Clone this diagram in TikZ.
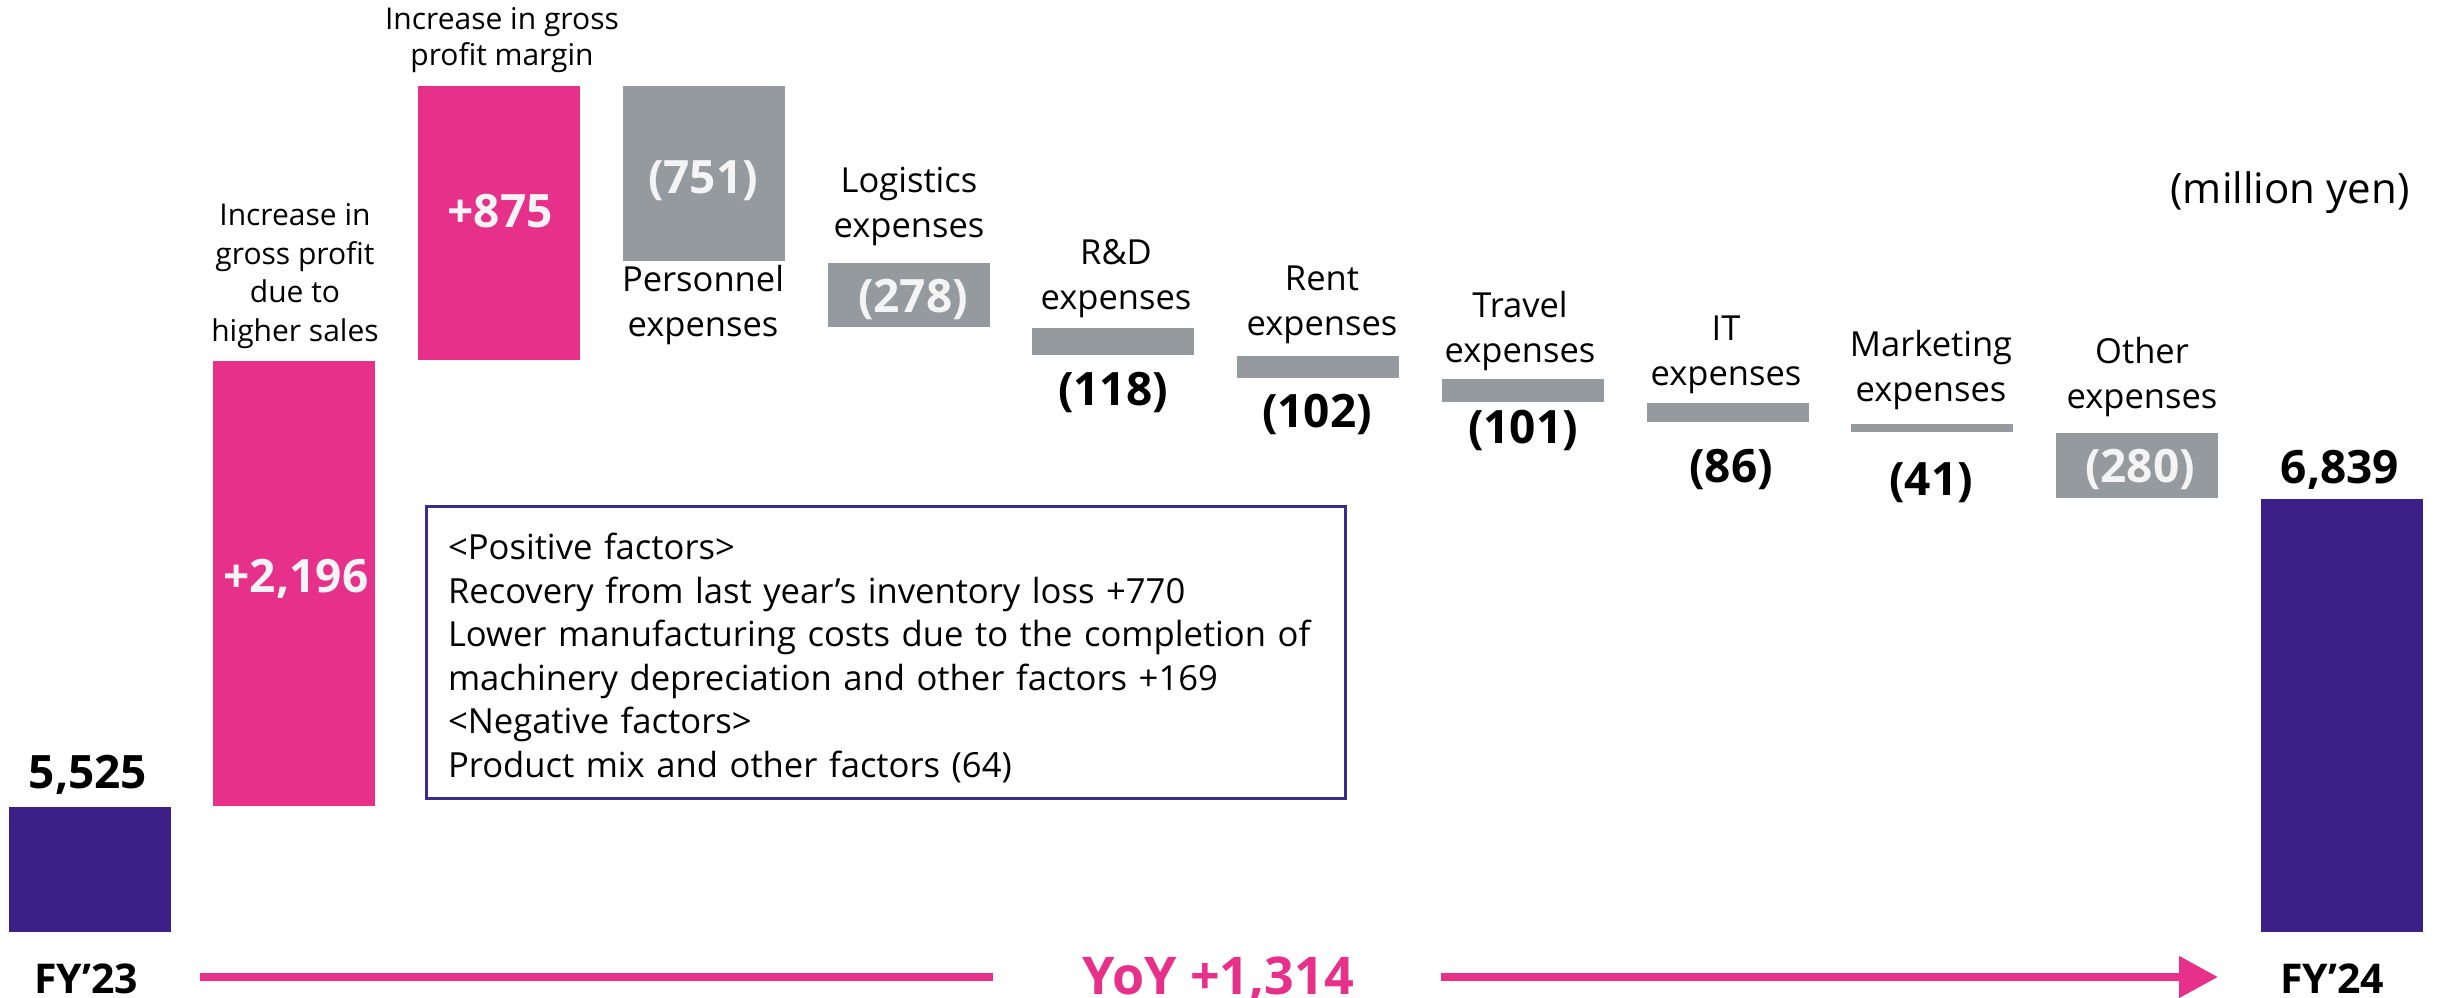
\documentclass[tikz,border=0pt]{standalone}
\usepackage{fontspec}
\setmainfont{Open Sans}
\usetikzlibrary{arrows.meta}
\definecolor{pinkc}{HTML}{E6308A}
\definecolor{purplec}{HTML}{3C1F87}
\definecolor{grayc}{HTML}{959A9F}
\definecolor{boxc}{HTML}{3C2A8C}
\definecolor{whitec}{HTML}{F4F4F4}
\begin{document}
\begin{tikzpicture}[x=1pt,y=-1pt,
 barbox/.style={draw=none,inner sep=0pt,outer sep=0pt,minimum width=162pt},
 pbar/.style={barbox,fill=pinkc},
 ubar/.style={barbox,fill=purplec},
 gbar/.style={barbox,fill=grayc},
 val/.style={inner sep=0pt,anchor=base,font=\fontsize{46}{50}\selectfont\bfseries},
 wval/.style={val,text=whitec},
 lbl/.style={inner sep=0pt,align=center,font=\fontsize{34.5}{45}\selectfont},
 toplbl/.style={inner sep=0pt,align=center,font=\fontsize{30}{38.5}\selectfont},
 yoyline/.style={draw=pinkc,line width=8pt},
]
\useasboundingbox (0,0) rectangle (2438,998);

% bars
\node[ubar,minimum height=125pt] (b23) at (89.5,869.5) {};
\node[pbar,minimum height=445pt] (b1) at (294,583.5) {};
\node[pbar,minimum height=274pt] (b2) at (499,223) {};
\node[gbar,minimum height=175pt] (b3) at (704,173.5) {};
\node[gbar,minimum height=64pt] (b4) at (909,295) {};
\node[gbar,minimum height=27pt] (b5) at (1113,341.5) {};
\node[gbar,minimum height=22pt] (b6) at (1318,367) {};
\node[gbar,minimum height=23pt] (b7) at (1523,390.5) {};
\node[gbar,minimum height=19pt] (b8) at (1728,412.5) {};
\node[gbar,minimum height=8pt] (b9) at (1932,428) {};
\node[gbar,minimum height=65pt] (b10) at (2136.5,465.5) {};
\node[ubar,minimum height=433pt] (b24) at (2341.5,715.5) {};

% values
\node[val] (v23) at (88,788) {5,525};
\node[wval] (v1) at (296,592) {+2,196};
\node[wval] (v2) at (500,227) {+875};
\node[wval] (v3) at (703,193) {(751)};
\node[wval] (v4) at (913,312) {(278)};
\node[val] (v5) at (1113,405) {(118)};
\node[val] (v6) at (1317,427) {(102)};
\node[val] (v7) at (1523,443) {(101)};
\node[val] (v8) at (1731,482) {(86)};
\node[val] (v9) at (1931,495) {(41)};
\node[wval] (v10) at (2140,482) {(280)};
\node[val] (v24) at (2340,483) {6,839};

% labels
\node[toplbl] (l1) at (295,276) {Increase in\\gross profit\\due to\\higher sales};
\node[toplbl,font=\fontsize{30}{36}\selectfont] (l2) at (502,40) {Increase in gross\\profit margin};
\node[lbl] (l3) at (703,305) {Personnel\\expenses};
\node[lbl] (l4) at (909,206) {Logistics\\expenses};
\node[lbl] (l5) at (1116,279) {R\&D\\expenses};
\node[lbl] (l6) at (1322,305) {Rent\\expenses};
\node[lbl] (l7) at (1520,331) {Travel\\expenses};
\node[lbl] (l8) at (1726,355) {IT\\expenses};
\node[lbl] (l9) at (1931,370) {Marketing\\expenses};
\node[lbl] (l10) at (2142,377) {Other\\expenses};
\node[inner sep=0pt,anchor=base,font=\fontsize{42}{44}\selectfont] (unit) at (2290,203) {(million yen)};

% explanation box
\node[draw=boxc,line width=3pt,fill=white,inner sep=0pt,
      minimum width=919pt,minimum height=292pt] (box) at (885.5,652) {};
\node[inner sep=0pt,text width=880pt,align=left,
      font=\fontsize{34.6}{43.5}\selectfont] (boxtxt) at (888,658)
 {<Positive factors>\\
  Recovery from last year’s inventory loss +770\\
  Lower manufacturing costs due to the completion of\\
  machinery depreciation and other factors +169\\
  <Negative factors>\\
  Product mix and other factors (64)};

% bottom axis
\node[val,font=\fontsize{41}{44}\selectfont\bfseries] (fy23) at (86,993) {FY’23};
\node[val,font=\fontsize{41}{44}\selectfont\bfseries] (fy24) at (2332,993) {FY’24};
\node[val,text=pinkc,font=\fontsize{52}{56}\selectfont\bfseries] (yoy) at (1218,994) {YoY +1,314};
\coordinate (a1) at (200,977);
\coordinate (a2) at (2218,977);
\draw[yoyline] (a1) -- (a1 -| 993,0);
\draw[yoyline,-{Triangle[length=39pt,width=40pt]}] (a2 -| 1441,0) -- (a2);
\end{tikzpicture}
\end{document}
